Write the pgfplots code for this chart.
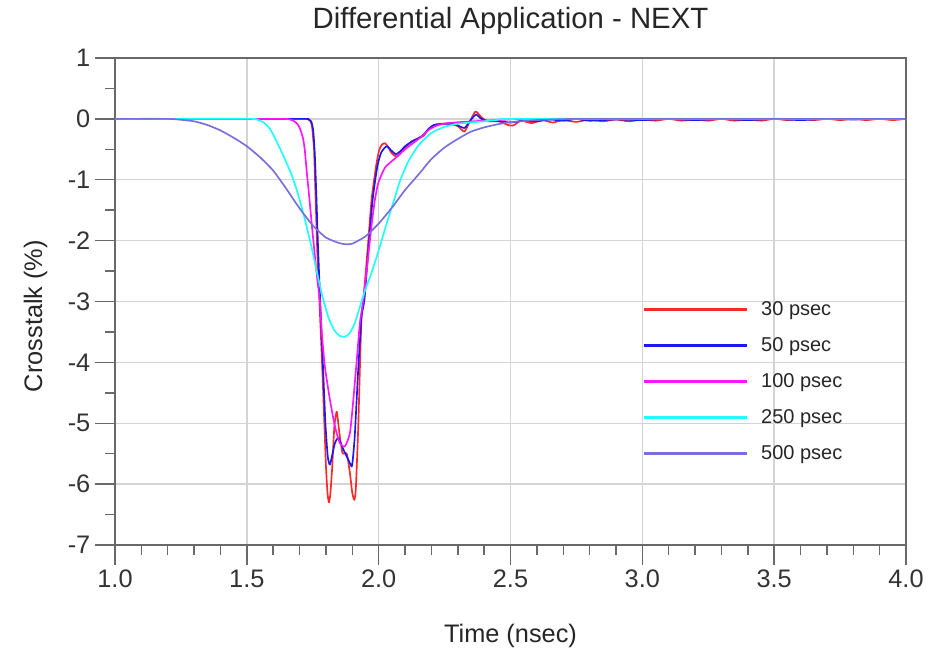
\documentclass[border=0pt]{standalone}
\usepackage{pgfplots}
\pgfplotsset{compat=1.18}
\usepackage{fontspec}
\setmainfont{Liberation Sans}
\definecolor{c30}{RGB}{255,40,40}
\definecolor{c50}{RGB}{25,25,240}
\definecolor{c100}{RGB}{255,20,255}
\definecolor{c250}{RGB}{30,255,255}
\definecolor{c500}{RGB}{120,110,220}
\definecolor{gridc}{RGB}{212,212,212}
\definecolor{axc}{RGB}{105,105,105}
\begin{document}
\begin{tikzpicture}
\useasboundingbox (0,0) rectangle (697.5pt,491.25pt);
\begin{axis}[
  at={(86.25pt,82.5pt)}, anchor=south west,
  scale only axis, width=593.25pt, height=365.25pt,
  xmin=1, xmax=4, ymin=-7, ymax=1,
  xtick={1,1.5,2,2.5,3,3.5,4},
  xticklabels={1.0,1.5,2.0,2.5,3.0,3.5,4.0},
  ytick={-7,-6,-5,-4,-3,-2,-1,0,1},
  yticklabels={-7,-6,-5,-4,-3,-2,-1,0,1},
  minor x tick num=4, minor y tick num=1,
  xtick pos=bottom, ytick pos=left,
  tick align=outside, major tick length=15pt, minor tick length=7.5pt,
  every tick/.style={axc, line width=1.1pt},
  axis line style={axc, line width=1.1pt},
  grid=major, major grid style={gridc, line width=1.1pt},
  ticklabel style={font=\fontsize{19}{22}\selectfont, text=black!80},
  title={Differential Application - NEXT},
  title style={at={(axis description cs:0.5,1.045)}, anchor=base, font=\fontsize{22}{25}\selectfont, text=black!85},
  xlabel={Time (nsec)},
  xlabel style={at={(axis description cs:0.5,-0.201)}, anchor=base, font=\fontsize{19}{22}\selectfont, text=black!85},
  ylabel={Crosstalk (\%)},
  ylabel style={at={(axis description cs:-0.092,0.47)}, anchor=base, font=\fontsize{19}{22}\selectfont, text=black!85},
  legend cell align=left,
  legend style={draw=none, fill=none, at={(rel axis cs:0.662,0.512)}, anchor=north west,
    font=\fontsize{15}{18}\selectfont, row sep=11pt, text=black!85},
  legend image code/.code={\draw[#1, line width=2.2pt] (0pt,0pt) -- (77pt,0pt); \path (85pt,0pt);},
  every axis plot/.append style={line width=1.25pt, line join=round},
]
\addplot[c30, smooth, tension=0.35] coordinates {
(1.0,0) (1.5,0) (1.72,0) (1.733,-0.01) (1.742,-0.04) (1.748,-0.15) (1.752,-0.35)
(1.755,-0.51) (1.761,-1.33) (1.767,-2.15) (1.775,-2.97) (1.785,-3.98) (1.794,-5.0)
(1.800,-5.7) (1.806,-6.15) (1.8115,-6.30) (1.817,-6.15) (1.824,-5.7) (1.832,-5.05)
(1.841,-4.81) (1.851,-5.16) (1.863,-5.49) (1.879,-5.50) (1.891,-5.82) (1.900,-6.15)
(1.908,-6.26) (1.913,-6.1) (1.917,-5.7) (1.923,-5.0) (1.929,-4.07) (1.935,-3.25)
(1.942,-2.97) (1.958,-2.15) (1.973,-1.33) (1.990,-0.78) (2.002,-0.51) (2.013,-0.42)
(2.024,-0.40) (2.036,-0.46) (2.049,-0.56) (2.068,-0.62) (2.085,-0.55) (2.10,-0.47)
(2.125,-0.37) (2.15,-0.32) (2.17,-0.28) (2.19,-0.17) (2.21,-0.10) (2.24,-0.08)
(2.27,-0.08) (2.30,-0.12) (2.325,-0.21) (2.345,-0.05) (2.367,0.12) (2.387,0.04)
(2.41,-0.04) (2.45,-0.03) (2.49,-0.10) (2.51,-0.11) (2.54,-0.03) (2.58,-0.07)
(2.62,-0.02) (2.66,-0.06) (2.70,-0.02) (2.75,-0.05) (2.80,-0.01) (2.85,-0.04)
(2.90,-0.01) (2.95,-0.04) (3.00,-0.01) (3.05,-0.03) (3.10,0.0) (3.15,-0.03)
(3.20,-0.01) (3.25,-0.03) (3.30,0.0) (3.35,-0.03) (3.40,-0.01) (3.45,-0.03)
(3.50,0.0) (3.55,-0.02) (3.60,0.0) (3.65,-0.02) (3.70,0.0) (3.75,-0.02)
(3.80,0.0) (3.85,-0.02) (3.90,0.0) (3.95,-0.02) (4.0,0.0)
};
\addlegendentry{30 psec}
\addplot[c50, smooth, tension=0.35] coordinates {
(1.0,0) (1.5,0) (1.72,0) (1.735,-0.01) (1.745,-0.05) (1.752,-0.2) (1.758,-0.6)
(1.764,-1.3) (1.770,-2.1) (1.778,-2.97) (1.788,-3.98) (1.798,-5.0) (1.807,-5.55)
(1.815,-5.68) (1.825,-5.5) (1.834,-5.33) (1.847,-5.24) (1.866,-5.43) (1.885,-5.6)
(1.898,-5.71) (1.904,-5.5) (1.910,-5.16) (1.923,-4.07) (1.935,-3.25) (1.946,-2.97)
(1.962,-2.1) (1.977,-1.33) (1.995,-0.78) (2.010,-0.55) (2.030,-0.45) (2.048,-0.52)
(2.066,-0.58) (2.085,-0.52) (2.10,-0.45) (2.127,-0.37) (2.15,-0.32) (2.17,-0.26)
(2.19,-0.16) (2.21,-0.10) (2.25,-0.08) (2.29,-0.09) (2.325,-0.15) (2.347,-0.03)
(2.369,0.07) (2.39,0.0) (2.42,-0.04) (2.46,-0.04) (2.50,-0.06) (2.55,-0.03)
(2.60,-0.04) (2.65,-0.01) (2.70,-0.03) (2.75,0.0) (2.80,-0.03) (2.90,-0.01)
(3.00,-0.02) (3.10,0.0) (3.20,-0.02) (3.30,0.0) (3.40,-0.02) (3.50,0.0)
(3.60,-0.02) (3.70,0.0) (3.80,-0.01) (3.90,0.0) (4.0,0.0)
};
\addlegendentry{50 psec}
\addplot[c100, smooth, tension=0.35] coordinates {
(1.0,0) (1.5,0) (1.64,0) (1.664,-0.01) (1.68,-0.04) (1.695,-0.10) (1.705,-0.2)
(1.714,-0.34) (1.720,-0.52) (1.727,-0.86) (1.737,-1.3) (1.750,-1.9) (1.765,-2.55)
(1.777,-3.0) (1.784,-3.5) (1.796,-4.07) (1.815,-4.61) (1.834,-5.05) (1.853,-5.33)
(1.872,-5.38) (1.891,-5.16) (1.904,-4.61) (1.917,-3.96) (1.929,-3.35) (1.942,-2.97)
(1.958,-2.35) (1.973,-1.75) (1.985,-1.35) (1.998,-1.06) (2.024,-0.80) (2.062,-0.65)
(2.10,-0.50) (2.13,-0.40) (2.16,-0.30) (2.19,-0.18) (2.22,-0.11) (2.26,-0.07)
(2.32,-0.05) (2.40,-0.03) (2.50,-0.01) (2.60,0) (4.0,0)
};
\addlegendentry{100 psec}
\addplot[c250, smooth, tension=0.35] coordinates {
(1.0,0) (1.50,0) (1.537,-0.01) (1.56,-0.05) (1.575,-0.10) (1.59,-0.18) (1.607,-0.32)
(1.625,-0.48) (1.64,-0.62) (1.67,-0.92) (1.695,-1.25) (1.72,-1.65) (1.745,-2.1)
(1.77,-2.6) (1.79,-2.97) (1.81,-3.27) (1.83,-3.46) (1.85,-3.56) (1.872,-3.58)
(1.89,-3.52) (1.91,-3.35) (1.935,-3.0) (1.95,-2.8) (1.967,-2.6) (1.99,-2.3)
(2.011,-2.0) (2.035,-1.65) (2.055,-1.38) (2.081,-1.02) (2.11,-0.72) (2.15,-0.44)
(2.20,-0.23) (2.25,-0.13) (2.30,-0.08) (2.35,-0.06) (2.40,-0.04) (2.45,-0.02)
(2.55,0) (4.0,0)
};
\addlegendentry{250 psec}
\addplot[c500, smooth, tension=0.35] coordinates {
(1.0,0) (1.2,0) (1.25,-0.015) (1.30,-0.04) (1.35,-0.10) (1.40,-0.19) (1.45,-0.31)
(1.5,-0.45) (1.55,-0.63) (1.60,-0.85) (1.65,-1.15) (1.70,-1.47) (1.75,-1.75)
(1.80,-1.95) (1.85,-2.04) (1.875,-2.06) (1.90,-2.05) (1.95,-1.93) (2.0,-1.72)
(2.05,-1.46) (2.10,-1.17) (2.15,-0.92) (2.20,-0.66) (2.25,-0.47) (2.30,-0.33)
(2.35,-0.21) (2.40,-0.14) (2.45,-0.09) (2.50,-0.055) (2.60,-0.02) (2.70,-0.005)
(2.80,0) (4.0,0)
};
\addlegendentry{500 psec}
\draw[axc, line width=1.1pt] (rel axis cs:0,1) -- (rel axis cs:1,1) -- (rel axis cs:1,0);
\end{axis}
\end{tikzpicture}
\end{document}
